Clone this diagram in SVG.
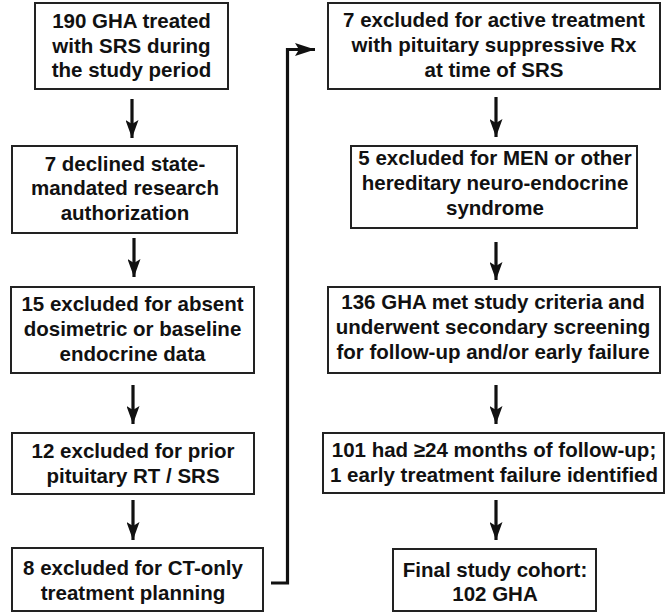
<svg xmlns="http://www.w3.org/2000/svg" width="669" height="614" viewBox="0 0 669 614">
<style>
.box{fill:#fff;stroke:#222;stroke-width:2}
.t{font-family:"Liberation Sans",Arial,sans-serif;font-weight:bold;font-size:20.5px;fill:#111;text-anchor:middle}
.ln{stroke:#111;stroke-width:3.2;fill:none}
</style>
<defs>
<marker id="ah" markerWidth="13" markerHeight="18" viewBox="0 0 13 18" refX="6.5" refY="18" orient="0" markerUnits="userSpaceOnUse">
<path d="M0,0 L6.5,4 L13,0 L6.5,18 Z" fill="#111"/>
</marker>
<marker id="ah2" markerWidth="20" markerHeight="13" viewBox="0 0 20 13" refX="20" refY="6.5" orient="auto" markerUnits="userSpaceOnUse">
<path d="M0,0 L20,6.5 L0,13 L4,6.5 Z" fill="#111"/>
</marker>
</defs>
<rect width="669" height="614" fill="#fff"/>
<g id="n1"><rect class="box" x="35" y="3" width="193" height="86"/>
<text class="t" x="131.5" y="28">190 GHA treated</text><text class="t" x="131.5" y="53">with SRS during</text><text class="t" x="131.5" y="77">the study period</text></g>
<g id="n2"><rect class="box" x="12" y="146" width="225" height="87"/>
<text class="t" x="125" y="171">7 declined state-</text><text class="t" x="125" y="195">mandated research</text><text class="t" x="125" y="220">authorization</text></g>
<g id="n3"><rect class="box" x="11" y="287" width="243" height="86"/>
<text class="t" x="132.5" y="311">15 excluded for absent</text><text class="t" x="132.5" y="336">dosimetric or baseline</text><text class="t" x="132.5" y="361">endocrine data</text></g>
<g id="n4"><rect class="box" x="12" y="433" width="242" height="61"/>
<text class="t" x="133" y="458">12 excluded for prior</text><text class="t" x="133" y="483">pituitary RT / SRS</text></g>
<g id="n5"><rect class="box" x="12" y="548" width="251" height="63"/>
<text class="t" x="133" y="575">8 excluded for CT-only</text><text class="t" x="133" y="600">treatment planning</text></g>
<g id="n6"><rect class="box" x="328" y="3" width="332" height="86"/>
<text class="t" x="494" y="27">7 excluded for active treatment</text><text class="t" x="494" y="52">with pituitary suppressive Rx</text><text class="t" x="494" y="77">at time of SRS</text></g>
<g id="n7"><rect class="box" x="351" y="146" width="286" height="82"/>
<text class="t" x="495" y="165">5 excluded for MEN or other</text><text class="t" x="495" y="190">hereditary neuro-endocrine</text><text class="t" x="495" y="215">syndrome</text></g>
<g id="n8"><rect class="box" x="328" y="287" width="332" height="86"/>
<text class="t" x="493" y="309">136 GHA met study criteria and</text><text class="t" x="493" y="334">underwent secondary screening</text><text class="t" x="493" y="359">for follow-up and/or early failure</text></g>
<g id="n9"><rect class="box" x="323" y="433" width="341" height="60"/>
<text class="t" x="494" y="457">101 had ≥24 months of follow-up;</text><text class="t" x="494" y="482">1 early treatment failure identified</text></g>
<g id="n10"><rect class="box" x="393" y="549" width="203" height="62"/>
<text class="t" x="495" y="577">Final study cohort:</text><text class="t" x="495" y="601">102 GHA</text></g>
<g id="connectors">
<line class="ln" x1="132" y1="99" x2="132" y2="138" marker-end="url(#ah)"/>
<line class="ln" x1="134" y1="238" x2="134" y2="277" marker-end="url(#ah)"/>
<line class="ln" x1="133" y1="385" x2="133" y2="424" marker-end="url(#ah)"/>
<line class="ln" x1="133" y1="500" x2="133" y2="540" marker-end="url(#ah)"/>
<line class="ln" x1="496" y1="97" x2="496" y2="137" marker-end="url(#ah)"/>
<line class="ln" x1="496" y1="242" x2="496" y2="280" marker-end="url(#ah)"/>
<line class="ln" x1="496" y1="385" x2="496" y2="424" marker-end="url(#ah)"/>
<line class="ln" x1="496" y1="500" x2="496" y2="540" marker-end="url(#ah)"/>
<path class="ln" d="M271,583 H287.5 V49.5 H315" stroke-width="3.6" marker-end="url(#ah2)"/>
</g>
</svg>
